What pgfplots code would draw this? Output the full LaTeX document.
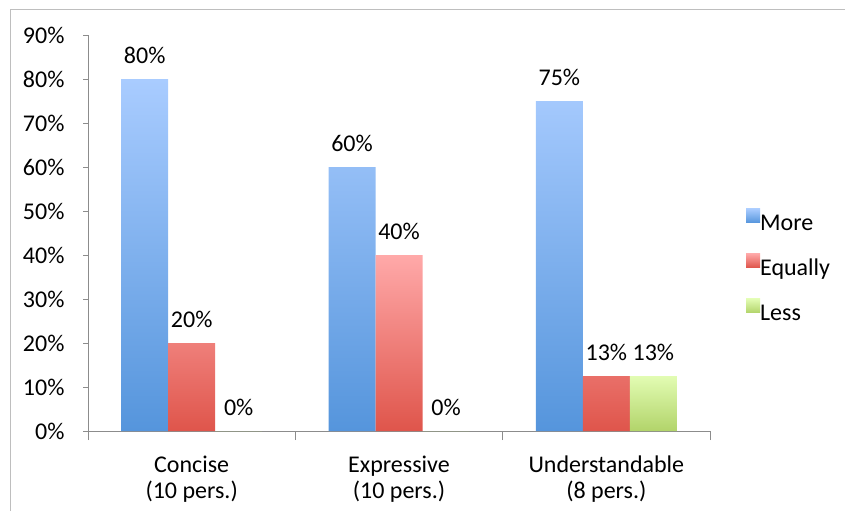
\documentclass[border=0pt]{standalone}
\usepackage{pgfplots}
\pgfplotsset{compat=1.18}
\usepackage{fontspec}
\setmainfont{Carlito}
\newcommand\fs{\fontsize{24}{26}\selectfont}
\definecolor{axgray}{HTML}{8C8C8C}
\definecolor{frame}{HTML}{BEBEBE}
\definecolor{btop}{HTML}{A9CCFF}
\definecolor{bbot}{HTML}{5595DC}
\definecolor{rtop}{HTML}{FFA9A9}
\definecolor{rbot}{HTML}{DF554B}
\definecolor{gtop}{HTML}{E2FCB3}
\definecolor{gbot}{HTML}{B2D46A}
\begin{document}
\begin{tikzpicture}[x=1pt,y=1pt]
\useasboundingbox (0,0) rectangle (845,511);
\draw[frame, line width=1pt] (10,0) -- (10,501) -- (845,501);
\begin{axis}[
  at={(88pt,80pt)}, anchor=south west,
  scale only axis, width=622pt, height=396pt,
  ybar=0pt, bar width=47pt,
  xmin=-0.5, xmax=2.5, ymin=0, ymax=90,
  xtick={0,1,2},
  xticklabels={{Concise\\(10 pers.)},{Expressive\\(10 pers.)},{Understandable\\(8 pers.)}},
  minor xtick={-0.5,0.5,1.5,2.5},
  ytick={0,10,...,90},
  yticklabel={\pgfmathprintnumber{\tick}\%},
  /pgf/number format/assume math mode=true,
  axis lines*=left,
  axis line style={draw=axgray, line width=1pt},
  tick align=outside,
  major x tick style={draw=none},
  minor x tick style={draw=axgray, line width=1pt},
  minor tick length=9pt,
  major tick length=5pt,
  y tick style={draw=axgray, line width=1pt},
  tick label style={font=\fs},
  xticklabel style={align=center, yshift=-16pt},
  yticklabel style={xshift=-15pt},
  point meta=explicit symbolic,
  nodes near coords,
  nodes near coords style={font=\fs, anchor=south, inner sep=0pt, yshift=15pt, text=black},
  legend style={at={(1.053,0.42)}, anchor=west, draw=none, fill=none, font=\fs, row sep=23pt,
    nodes={inner sep=0pt, text depth=0pt}},
  legend cell align=left,
  legend image code/.code={\path[#1] (0pt,0pt) rectangle (14pt,14pt);},
  legend style={/tikz/every even column/.append style={column sep=6pt}},
]
\addplot[draw=none, top color=btop, bottom color=bbot] coordinates {(0,80) [80\%] (1,60) [60\%] (2,75) [75\%]};
\addplot[draw=none, top color=rtop, bottom color=rbot] coordinates {(0,20) [20\%] (1,40) [40\%] (2,12.5) [13\%]};
\addplot[draw=none, top color=gtop, bottom color=gbot] coordinates {(0,0) [0\%] (1,0) [0\%] (2,12.5) [13\%]};
\legend{More,Equally,Less}
\end{axis}
\end{tikzpicture}
\end{document}
